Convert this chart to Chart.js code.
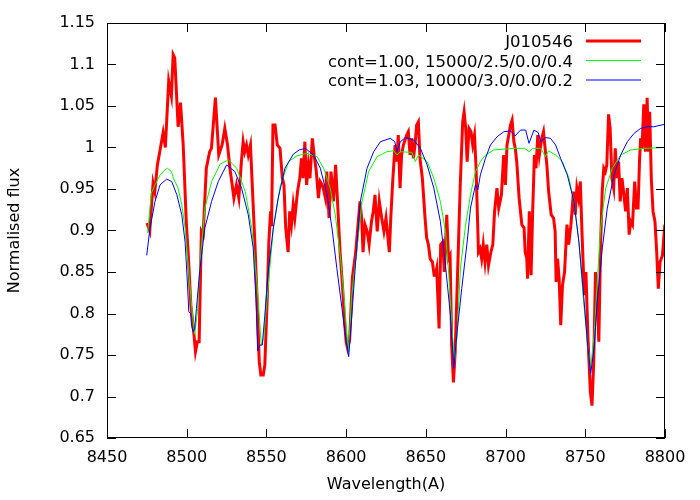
<!DOCTYPE html>
<html>
<head>
<meta charset="utf-8">
<script src="https://cdn.jsdelivr.net/npm/chart.js@4.4.0/dist/chart.umd.min.js"></script>
<style>
  html, body { margin: 0; padding: 0; background: #fff; }
  #wrap { width: 700px; height: 500px; }
</style>
</head>
<body>
<div id="wrap"><canvas id="grafico"></canvas></div>
<script>
// --- DATA ---
const obsWave = [8475.1, 8476.8, 8478.9, 8480.0, 8481.6, 8483.1, 8485.2, 8486.6, 8488.7, 8490.4, 8491.5, 8492.5, 8494.6, 8496.1, 8497.8, 8499.8, 8500.9, 8502.6, 8504.0, 8505.5, 8506.7, 8507.8, 8509.2, 8510.3, 8512.3, 8514.4, 8515.5, 8518.0, 8520.1, 8522.2, 8523.9, 8525.6, 8527.1, 8528.5, 8529.6, 8531.2, 8532.7, 8534.3, 8535.4, 8536.4, 8537.5, 8538.6, 8540.0, 8541.3, 8542.8, 8544.2, 8545.5, 8546.5, 8548.0, 8549.0, 8550.5, 8551.5, 8552.6, 8553.2, 8554.1, 8555.4, 8556.8, 8558.5, 8560.0, 8561.0, 8562.1, 8563.6, 8564.6, 8565.7, 8566.8, 8567.8, 8569.5, 8570.9, 8572.0, 8573.0, 8574.1, 8575.2, 8576.3, 8577.3, 8578.8, 8579.9, 8581.3, 8582.6, 8583.7, 8585.0, 8586.1, 8587.0, 8587.8, 8589.3, 8590.5, 8592.0, 8593.4, 8594.7, 8596.2, 8597.7, 8599.0, 8600.0, 8600.9, 8602.2, 8603.9, 8606.0, 8608.7, 8609.7, 8610.6, 8611.8, 8613.2, 8614.4, 8615.9, 8617.0, 8618.1, 8619.5, 8620.8, 8622.3, 8623.7, 8625.0, 8626.0, 8627.1, 8628.0, 8629.2, 8630.7, 8631.7, 8632.7, 8633.8, 8634.8, 8635.9, 8638.0, 8639.0, 8640.1, 8641.2, 8642.2, 8643.2, 8644.2, 8645.3, 8646.3, 8647.8, 8649.5, 8650.5, 8651.6, 8652.7, 8654.1, 8655.2, 8656.0, 8656.8, 8658.3, 8659.3, 8660.6, 8661.6, 8663.1, 8664.2, 8665.2, 8666.2, 8667.3, 8668.4, 8669.8, 8671.5, 8673.1, 8674.0, 8675.0, 8675.9, 8677.1, 8678.3, 8679.4, 8680.5, 8681.5, 8683.0, 8684.0, 8685.0, 8686.0, 8687.1, 8688.2, 8689.3, 8690.8, 8692.0, 8693.1, 8694.6, 8695.7, 8697.4, 8698.8, 8699.9, 8700.9, 8702.0, 8703.1, 8704.1, 8705.2, 8706.1, 8707.0, 8708.5, 8710.2, 8711.6, 8712.3, 8713.3, 8713.8, 8714.9, 8716.0, 8717.0, 8718.1, 8719.1, 8720.2, 8721.2, 8722.7, 8723.8, 8724.8, 8725.9, 8727.0, 8728.6, 8730.1, 8731.1, 8731.7, 8732.6, 8733.6, 8734.6, 8735.7, 8737.0, 8738.5, 8739.6, 8741.0, 8742.6, 8743.7, 8744.7, 8745.8, 8746.9, 8747.9, 8749.4, 8750.4, 8751.7, 8753.2, 8754.2, 8755.3, 8756.4, 8757.4, 8758.5, 8759.6, 8760.6, 8761.6, 8762.6, 8763.5, 8764.6, 8765.6, 8766.7, 8767.8, 8768.8, 8769.9, 8770.9, 8771.9, 8773.0, 8774.0, 8775.3, 8776.4, 8777.5, 8778.5, 8779.6, 8781.0, 8782.1, 8783.1, 8784.0, 8784.7, 8785.6, 8786.7, 8787.7, 8788.8, 8789.6, 8790.4, 8791.4, 8792.5, 8793.7, 8794.8, 8795.8, 8796.9, 8798.4, 8799.9];
const obsFlux = [0.909, 0.899, 0.957, 0.947, 0.979, 0.995, 1.018, 1.000, 1.080, 1.062, 1.112, 1.108, 1.025, 1.054, 1.003, 0.907, 0.874, 0.810, 0.786, 0.754, 0.766, 0.766, 0.899, 0.895, 0.975, 0.995, 0.999, 1.060, 0.991, 1.003, 1.023, 1.003, 0.975, 0.955, 0.939, 0.955, 0.939, 0.983, 1.007, 0.995, 1.003, 0.991, 1.003, 0.947, 0.883, 0.814, 0.742, 0.726, 0.726, 0.738, 0.818, 0.886, 0.923, 0.905, 1.027, 1.027, 1.003, 0.999, 0.963, 0.955, 0.903, 0.874, 0.923, 0.907, 0.931, 0.915, 0.947, 0.963, 0.987, 0.963, 1.007, 0.955, 0.979, 0.963, 1.011, 0.991, 0.971, 0.939, 0.959, 0.955, 0.947, 0.939, 0.971, 0.915, 0.971, 0.935, 0.979, 0.931, 0.874, 0.834, 0.790, 0.766, 0.758, 0.768, 0.843, 0.874, 0.935, 0.915, 0.874, 0.907, 0.899, 0.883, 0.911, 0.923, 0.943, 0.899, 0.935, 0.915, 0.899, 0.915, 0.895, 0.874, 0.915, 0.959, 1.003, 0.983, 1.015, 0.951, 0.991, 1.003, 1.015, 1.019, 0.991, 1.011, 0.987, 1.003, 1.027, 1.031, 0.987, 0.963, 0.915, 0.891, 0.883, 0.866, 0.862, 0.846, 0.846, 0.854, 0.782, 0.883, 0.886, 0.850, 0.919, 0.866, 0.870, 0.762, 0.717, 0.754, 0.842, 0.951, 1.031, 1.043, 1.023, 0.983, 1.023, 1.019, 1.003, 1.015, 0.975, 0.874, 0.878, 0.866, 0.883, 0.862, 0.883, 0.858, 0.874, 0.883, 0.923, 0.951, 0.927, 0.943, 0.991, 0.955, 1.003, 1.015, 1.027, 1.033, 1.007, 0.999, 0.983, 0.939, 0.907, 0.903, 0.874, 0.866, 0.842, 0.923, 0.846, 0.923, 0.991, 0.975, 1.015, 0.991, 1.011, 1.019, 0.999, 0.979, 0.947, 0.919, 0.915, 0.899, 0.838, 0.866, 0.842, 0.786, 0.834, 0.850, 0.907, 0.883, 0.907, 0.947, 0.919, 0.951, 0.939, 0.959, 0.899, 0.822, 0.850, 0.770, 0.705, 0.689, 0.742, 0.850, 0.818, 0.766, 0.883, 0.947, 0.975, 0.971, 0.979, 1.040, 1.023, 0.963, 0.951, 0.999, 0.963, 0.983, 0.935, 0.963, 0.947, 0.923, 0.951, 0.895, 0.911, 0.907, 0.959, 0.927, 0.927, 0.983, 1.011, 0.999, 1.052, 0.995, 1.060, 0.995, 1.043, 0.963, 0.923, 0.911, 0.874, 0.830, 0.862, 0.870, 0.907];

// modelo cont=1.00 (verde)
const fitAWave = [8475.5, 8477.8, 8480.1, 8483.3, 8486.4, 8487.9, 8490.4, 8491.8, 8493.2, 8494.6, 8496.9, 8499.0, 8501.1, 8503.2, 8505.0, 8506.7, 8508.3, 8511.4, 8515.6, 8521.0, 8526.2, 8531.4, 8536.7, 8540.8, 8544.0, 8546.8, 8548.3, 8551.3, 8554.4, 8558.6, 8563.9, 8569.1, 8575.3, 8581.7, 8585.9, 8590.0, 8593.2, 8596.3, 8598.8, 8600.5, 8601.5, 8603.4, 8606.8, 8610.0, 8614.1, 8619.4, 8625.6, 8629.8, 8631.9, 8634.0, 8641.3, 8643.4, 8645.5, 8650.8, 8655.0, 8659.1, 8662.3, 8664.4, 8666.5, 8668.0, 8669.6, 8671.7, 8674.8, 8678.0, 8681.1, 8684.2, 8687.4, 8692.6, 8698.9, 8705.2, 8712.0, 8714.7, 8717.0, 8722.0, 8725.1, 8727.0, 8731.4, 8735.6, 8739.8, 8742.9, 8746.0, 8748.8, 8751.3, 8753.4, 8755.5, 8757.5, 8759.6, 8762.8, 8767.0, 8772.2, 8778.5, 8786.9, 8800.0];
const fitAFlux = [0.897, 0.945, 0.955, 0.967, 0.973, 0.975, 0.971, 0.962, 0.957, 0.951, 0.931, 0.903, 0.854, 0.806, 0.775, 0.802, 0.860, 0.927, 0.959, 0.980, 0.985, 0.975, 0.947, 0.903, 0.838, 0.762, 0.770, 0.838, 0.903, 0.953, 0.983, 0.990, 0.993, 0.989, 0.975, 0.951, 0.919, 0.870, 0.818, 0.774, 0.754, 0.820, 0.879, 0.935, 0.971, 0.989, 0.995, 0.996, 0.991, 0.995, 0.994, 0.983, 0.991, 0.983, 0.963, 0.935, 0.899, 0.846, 0.778, 0.742, 0.774, 0.855, 0.905, 0.943, 0.971, 0.983, 0.991, 0.997, 0.998, 0.999, 0.999, 0.995, 0.999, 0.999, 0.989, 0.996, 0.991, 0.983, 0.963, 0.935, 0.886, 0.818, 0.766, 0.734, 0.774, 0.838, 0.903, 0.951, 0.975, 0.991, 0.997, 0.999, 1.000];

// modelo cont=1.03 (azul)
const fitBWave = [8474.9, 8477.0, 8480.1, 8483.3, 8487.5, 8490.6, 8493.8, 8496.9, 8499.0, 8500.4, 8501.3, 8502.5, 8503.0, 8504.0, 8505.0, 8506.1, 8508.3, 8511.4, 8515.6, 8519.8, 8525.0, 8530.2, 8534.4, 8538.6, 8541.7, 8543.4, 8544.5, 8545.9, 8547.4, 8549.0, 8551.1, 8554.3, 8557.4, 8561.6, 8566.9, 8570.5, 8574.4, 8579.6, 8583.8, 8588.0, 8591.1, 8594.2, 8597.4, 8599.5, 8601.6, 8603.6, 8605.8, 8608.9, 8613.1, 8617.3, 8621.5, 8627.7, 8630.5, 8631.9, 8634.0, 8637.2, 8642.4, 8646.6, 8650.8, 8655.0, 8659.1, 8662.3, 8665.4, 8667.5, 8669.6, 8672.5, 8675.9, 8678.0, 8681.1, 8682.6, 8684.2, 8687.4, 8690.5, 8694.7, 8698.9, 8703.1, 8706.0, 8709.4, 8712.6, 8714.7, 8717.8, 8720.5, 8722.0, 8725.1, 8728.2, 8731.4, 8734.5, 8738.7, 8742.9, 8746.0, 8748.8, 8751.3, 8753.4, 8755.5, 8757.5, 8760.7, 8763.8, 8768.0, 8772.2, 8776.4, 8780.6, 8784.7, 8788.9, 8793.0, 8797.5, 8800.0];
const fitBFlux = [0.870, 0.903, 0.935, 0.955, 0.962, 0.959, 0.943, 0.919, 0.886, 0.838, 0.802, 0.800, 0.786, 0.778, 0.782, 0.806, 0.854, 0.903, 0.935, 0.959, 0.979, 0.971, 0.951, 0.919, 0.879, 0.818, 0.755, 0.762, 0.762, 0.798, 0.850, 0.903, 0.939, 0.975, 0.992, 0.997, 0.999, 0.991, 0.975, 0.943, 0.903, 0.854, 0.806, 0.774, 0.748, 0.798, 0.858, 0.935, 0.975, 0.995, 1.007, 1.011, 1.007, 0.995, 1.007, 1.012, 1.009, 0.999, 0.979, 0.951, 0.911, 0.858, 0.798, 0.734, 0.778, 0.830, 0.886, 0.927, 0.955, 0.949, 0.967, 0.987, 1.003, 1.013, 1.019, 1.020, 1.014, 1.021, 1.021, 1.005, 1.021, 1.018, 1.007, 1.012, 1.011, 1.003, 0.987, 0.967, 0.935, 0.886, 0.826, 0.766, 0.728, 0.758, 0.814, 0.879, 0.927, 0.967, 0.991, 1.007, 1.017, 1.023, 1.025, 1.025, 1.027, 1.028];

const seriesNames = ["J010546", "cont=1.00, 15000/2.5/0.0/0.4", "cont=1.03, 10000/3.0/0.0/0.2"];
const xTicks = [8450, 8500, 8550, 8600, 8650, 8700, 8750, 8800];
const xTickLabels = ["8450", "8500", "8550", "8600", "8650", "8700", "8750", "8800"];
const yTicks = [0.65, 0.7, 0.75, 0.8, 0.85, 0.9, 0.95, 1, 1.05, 1.1, 1.15];
const yTickLabels = ["0.65", "0.7", "0.75", "0.8", "0.85", "0.9", "0.95", "1", "1.05", "1.1", "1.15"];

function puntos(ondas, flujos) {
  return ondas.map((w, i) => ({ x: w, y: flujos[i] }));
}

Chart.defaults.font.family = "'DejaVu Sans', sans-serif";
Chart.defaults.font.size = 16;
Chart.defaults.color = "#000";

// --- MARCO, TICKS HACIA DENTRO Y LEYENDA ---
const marcoPlugin = {
  id: "marco",
  afterDatasetsDraw(chart) {
    const { ctx, chartArea: a, scales } = chart;
    const len = 9;
    ctx.save();
    ctx.strokeStyle = "#000";
    ctx.lineWidth = 1;
    ctx.strokeRect(a.left + 0.5, a.top + 0.5, a.right - a.left - 1, a.bottom - a.top - 1);
    ctx.beginPath();
    xTicks.forEach((v) => {
      const px = Math.round(scales.x.getPixelForValue(v)) + 0.5;
      ctx.moveTo(px, a.bottom); ctx.lineTo(px, a.bottom - len);
      ctx.moveTo(px, a.top); ctx.lineTo(px, a.top + len);
    });
    yTicks.forEach((v) => {
      const py = Math.round(scales.y.getPixelForValue(v)) + 0.5;
      ctx.moveTo(a.left, py); ctx.lineTo(a.left + len, py);
      ctx.moveTo(a.right, py); ctx.lineTo(a.right - len, py);
    });
    ctx.stroke();

    // leyenda estilo gnuplot
    ctx.font = "16.5px 'DejaVu Sans', sans-serif";
    ctx.textAlign = "right";
    ctx.textBaseline = "alphabetic";
    chart.data.datasets.forEach((ds, i) => {
      const y = a.top + 18 + i * 19.5;
      ctx.fillStyle = "#000";
      ctx.fillText(ds.label, a.right - 92, y + 6);
      ctx.strokeStyle = ds.borderColor;
      ctx.lineWidth = ds.borderWidth;
      ctx.beginPath();
      ctx.moveTo(a.right - 79, y);
      ctx.lineTo(a.right - 24, y);
      ctx.stroke();
    });
    ctx.restore();
  },
};

const ctx = document.getElementById("grafico").getContext("2d");
const grafico = new Chart(ctx, {
  type: "line",
  data: {
    datasets: [
      { label: seriesNames[0], data: puntos(obsWave, obsFlux), borderColor: "#ff0000", borderWidth: 3, order: 3 },
      { label: seriesNames[1], data: puntos(fitAWave, fitAFlux), borderColor: "#00ff00", borderWidth: 1, order: 2 },
      { label: seriesNames[2], data: puntos(fitBWave, fitBFlux), borderColor: "#0000ff", borderWidth: 1, order: 1 },
    ],
  },
  options: {
    responsive: true,
    maintainAspectRatio: false,
    animation: false,
    parsing: true,
    elements: { point: { radius: 0 }, line: { tension: 0, fill: false } },
    layout: { padding: { top: 23, right: 35, left: 0, bottom: 0 } },
    plugins: { legend: { display: false }, tooltip: { enabled: false } },
    scales: {
      x: {
        type: "linear",
        min: 8450,
        max: 8800,
        afterBuildTicks: (s) => { s.ticks = xTicks.map((v) => ({ value: v })); },
        afterFit: (s) => { s.height = 62; },
        ticks: {
          autoSkip: false,
          maxRotation: 0,
          padding: 10,
          callback: (v) => xTickLabels[xTicks.indexOf(v)],
        },
        grid: { display: false, drawTicks: false },
        border: { display: false },
        title: { display: true, text: "Wavelength(A)", padding: { top: 0, bottom: 6 } },
      },
      y: {
        min: 0.65,
        max: 1.15,
        afterBuildTicks: (s) => { s.ticks = yTicks.map((v) => ({ value: v })); },
        afterFit: (s) => { s.width = 107; },
        ticks: {
          autoSkip: false,
          padding: 12,
          callback: (v) => yTickLabels[yTicks.indexOf(v)],
        },
        grid: { display: false, drawTicks: false },
        border: { display: false },
        title: { display: true, text: "Normalised flux", padding: { top: 5, bottom: 0 } },
      },
    },
  },
  plugins: [marcoPlugin],
});
</script>
</body>
</html>
